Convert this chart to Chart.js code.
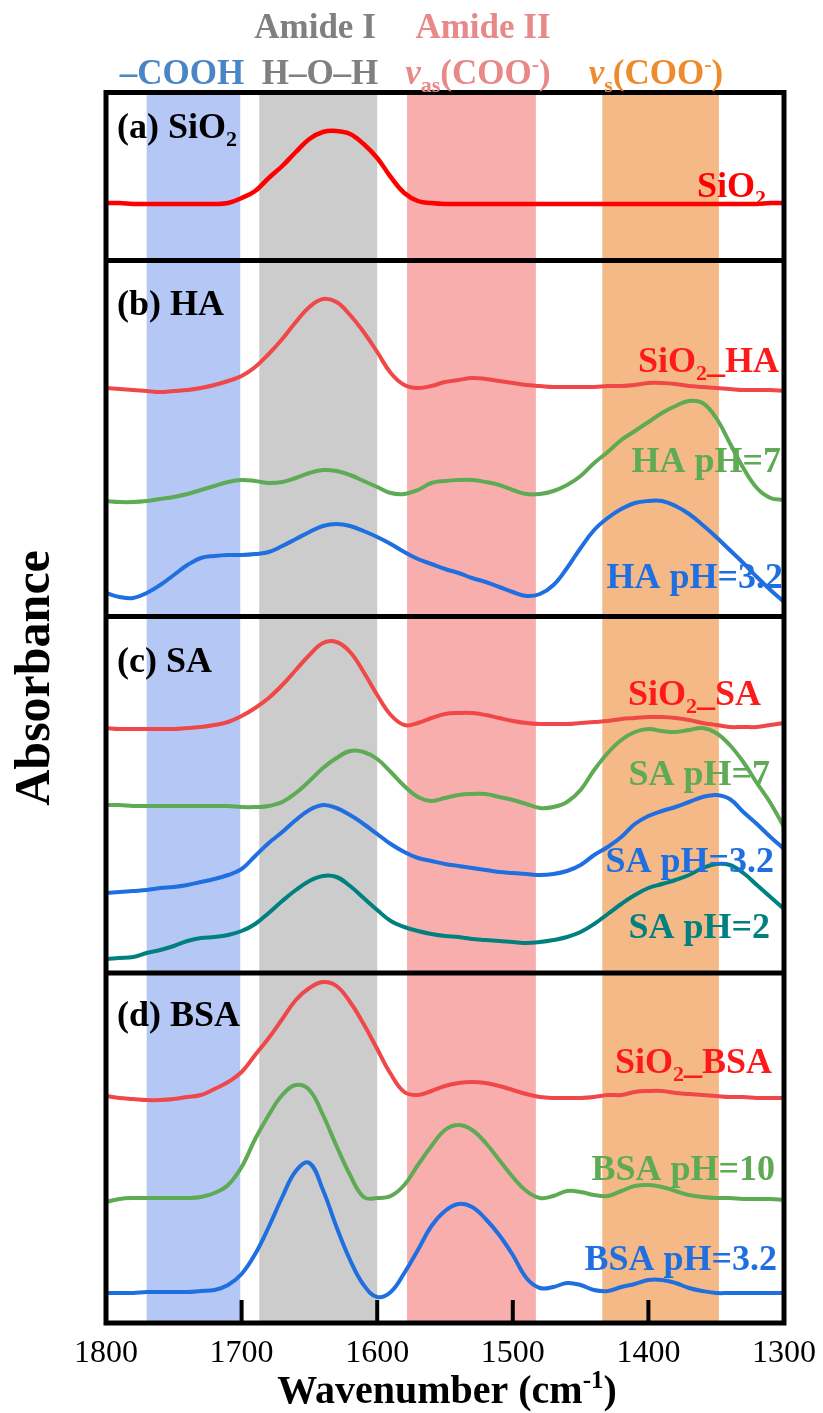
<!DOCTYPE html>
<html>
<head>
<meta charset="utf-8">
<script src="https://cdn.jsdelivr.net/npm/chart.js@4.4.1/dist/chart.umd.min.js"></script>
<style>
  html, body { margin: 0; padding: 0; background: #fff; }
  #wrap { width: 823px; height: 1413px; }
</style>
</head>
<body>
<div id="wrap"><canvas id="ftirChart" width="823" height="1413"></canvas></div>
<script>
// Wavenumber grid (cm-1), read every 10 cm-1
const wavenumbers = [1800, 1790, 1780, 1770, 1760, 1750, 1740, 1730, 1720, 1710,
    1700, 1690, 1680, 1670, 1660, 1650, 1640, 1630, 1620, 1610,
    1600, 1590, 1580, 1570, 1560, 1550, 1540, 1530, 1520, 1510,
    1500, 1490, 1480, 1470, 1460, 1450, 1440, 1430, 1420, 1410,
    1400, 1390, 1380, 1370, 1360, 1350, 1340, 1330, 1320, 1310, 1300];

// Absorbance (a.u., spectra already stacked with offsets)
// (a) SiO2
const sio2 = [11.20, 11.20, 11.19, 11.19, 11.19, 11.19, 11.19, 11.19, 11.19, 11.20,
    11.25, 11.32, 11.45, 11.57, 11.71, 11.84, 11.91, 11.92, 11.89, 11.79,
    11.65, 11.46, 11.30, 11.22, 11.20, 11.19, 11.19, 11.19, 11.19, 11.19,
    11.19, 11.19, 11.19, 11.19, 11.19, 11.19, 11.19, 11.19, 11.19, 11.19,
    11.19, 11.19, 11.19, 11.19, 11.19, 11.19, 11.19, 11.19, 11.19, 11.20, 11.20];

// (b) HA
const sio2HA = [9.35, 9.34, 9.33, 9.32, 9.31, 9.32, 9.33, 9.35, 9.38, 9.42,
    9.47, 9.56, 9.69, 9.84, 10.01, 10.16, 10.24, 10.21, 10.08, 9.91,
    9.71, 9.50, 9.38, 9.35, 9.37, 9.41, 9.43, 9.45, 9.44, 9.42,
    9.40, 9.38, 9.37, 9.36, 9.36, 9.36, 9.36, 9.37, 9.37, 9.38,
    9.40, 9.40, 9.39, 9.37, 9.36, 9.35, 9.34, 9.33, 9.33, 9.33, 9.32];
const haPH7 = [8.22, 8.21, 8.21, 8.22, 8.24, 8.26, 8.29, 8.33, 8.37, 8.41,
    8.43, 8.42, 8.40, 8.41, 8.45, 8.50, 8.53, 8.52, 8.48, 8.42,
    8.36, 8.30, 8.29, 8.33, 8.40, 8.42, 8.43, 8.43, 8.41, 8.38,
    8.33, 8.29, 8.29, 8.32, 8.38, 8.47, 8.60, 8.71, 8.83, 8.92,
    9.01, 9.10, 9.17, 9.22, 9.20, 9.05, 8.80, 8.55, 8.35, 8.25, 8.23];
const haPH32 = [7.30, 7.26, 7.25, 7.30, 7.38, 7.48, 7.58, 7.65, 7.67, 7.68,
    7.68, 7.69, 7.71, 7.77, 7.84, 7.91, 7.97, 7.99, 7.97, 7.92,
    7.86, 7.79, 7.71, 7.64, 7.59, 7.54, 7.50, 7.45, 7.41, 7.36,
    7.31, 7.27, 7.29, 7.38, 7.55, 7.75, 7.93, 8.05, 8.14, 8.20,
    8.22, 8.22, 8.17, 8.09, 7.98, 7.86, 7.73, 7.60, 7.46, 7.33, 7.21];

// (c) SA
const sio2SA = [5.95, 5.94, 5.94, 5.94, 5.94, 5.94, 5.95, 5.96, 5.98, 6.01,
    6.07, 6.15, 6.25, 6.38, 6.53, 6.68, 6.80, 6.81, 6.71, 6.51,
    6.28, 6.08, 5.98, 6.00, 6.05, 6.09, 6.10, 6.10, 6.08, 6.05,
    6.02, 6.00, 5.99, 5.99, 5.99, 6.00, 6.01, 6.02, 6.04, 6.05,
    6.06, 6.06, 6.05, 6.03, 6.00, 5.98, 5.96, 5.96, 5.96, 5.98, 6.00];
const saPH7 = [5.18, 5.18, 5.17, 5.17, 5.17, 5.17, 5.17, 5.17, 5.17, 5.17,
    5.16, 5.16, 5.17, 5.21, 5.30, 5.42, 5.55, 5.65, 5.72, 5.71,
    5.64, 5.51, 5.37, 5.26, 5.22, 5.25, 5.28, 5.29, 5.29, 5.26,
    5.23, 5.19, 5.15, 5.16, 5.21, 5.33, 5.53, 5.70, 5.83, 5.91,
    5.94, 5.92, 5.91, 5.93, 5.95, 5.90, 5.78, 5.61, 5.40, 5.20, 4.96];
const saPH32 = [4.30, 4.31, 4.32, 4.33, 4.35, 4.36, 4.38, 4.41, 4.44, 4.48,
    4.54, 4.67, 4.80, 4.91, 5.03, 5.13, 5.18, 5.15, 5.08, 4.99,
    4.89, 4.79, 4.71, 4.65, 4.62, 4.59, 4.57, 4.55, 4.53, 4.51,
    4.50, 4.49, 4.48, 4.49, 4.52, 4.58, 4.68, 4.76, 4.86, 4.99,
    5.07, 5.12, 5.16, 5.21, 5.26, 5.28, 5.24, 5.11, 4.99, 4.86, 4.74];
const saPH2 = [3.64, 3.65, 3.66, 3.70, 3.73, 3.77, 3.82, 3.85, 3.86, 3.88,
    3.92, 3.99, 4.10, 4.22, 4.33, 4.42, 4.47, 4.46, 4.37, 4.25,
    4.13, 4.02, 3.96, 3.92, 3.89, 3.87, 3.86, 3.84, 3.83, 3.82,
    3.81, 3.80, 3.81, 3.83, 3.86, 3.91, 3.99, 4.09, 4.19, 4.28,
    4.35, 4.39, 4.43, 4.48, 4.55, 4.59, 4.58, 4.50, 4.38, 4.26, 4.14];

// (d) BSA
const sio2BSA = [2.27, 2.25, 2.24, 2.23, 2.23, 2.24, 2.26, 2.28, 2.34, 2.41,
    2.51, 2.68, 2.85, 3.04, 3.23, 3.35, 3.41, 3.37, 3.21, 2.99,
    2.74, 2.49, 2.31, 2.28, 2.32, 2.37, 2.40, 2.41, 2.40, 2.37,
    2.33, 2.29, 2.26, 2.25, 2.25, 2.25, 2.26, 2.28, 2.28, 2.31,
    2.32, 2.32, 2.30, 2.29, 2.28, 2.27, 2.26, 2.26, 2.25, 2.25, 2.25];
const bsaPH10 = [1.21, 1.24, 1.25, 1.25, 1.25, 1.25, 1.25, 1.26, 1.30, 1.38,
    1.56, 1.84, 2.08, 2.28, 2.38, 2.33, 2.08, 1.77, 1.48, 1.26,
    1.25, 1.27, 1.38, 1.58, 1.77, 1.93, 1.98, 1.93, 1.80, 1.63,
    1.46, 1.32, 1.25, 1.27, 1.32, 1.31, 1.28, 1.27, 1.32, 1.37,
    1.38, 1.36, 1.32, 1.28, 1.26, 1.25, 1.25, 1.24, 1.24, 1.24, 1.23];
const bsaPH32 = [0.30, 0.30, 0.30, 0.31, 0.31, 0.31, 0.31, 0.32, 0.33, 0.38,
    0.49, 0.69, 0.96, 1.26, 1.52, 1.60, 1.33, 0.96, 0.63, 0.38,
    0.26, 0.31, 0.50, 0.73, 0.97, 1.12, 1.19, 1.16, 1.04, 0.88,
    0.68, 0.45, 0.35, 0.36, 0.40, 0.38, 0.33, 0.32, 0.36, 0.39,
    0.43, 0.43, 0.40, 0.35, 0.32, 0.30, 0.30, 0.30, 0.30, 0.30, 0.30];

// Assignment bands (cm-1)
const bandStart = [1770, 1687, 1578, 1434];
const bandEnd = [1701, 1600, 1483, 1348];

// Bottom axis ticks and panel separators (absorbance units)
const tickValues = [1800, 1700, 1600, 1500, 1400, 1300];
const panelDividers = [10.625, 7.065, 3.5];

const SERIF = '"Liberation Serif", "Times New Roman", serif';
const RED = '#f04848';
const GREEN = '#5eaa55';
const BLUE = '#1f6fe0';
const TEAL = '#00817f';

function series(values, color, width) {
    return {
        data: wavenumbers.map(function (w, i) { return { x: w, y: values[i] }; }),
        borderColor: color,
        borderWidth: width || 4,
        pointRadius: 0,
        fill: false,
        tension: 0.4
    };
}

// text made of pieces: [text, kind] with kind '', 'sub', 'sup', 'it'
function pieceFont(kind, size) {
    if (kind === 'sub' || kind === 'sup') return 'bold ' + Math.round(size * 0.62) + 'px ' + SERIF;
    if (kind === 'it') return 'italic bold ' + size + 'px ' + SERIF;
    return 'bold ' + size + 'px ' + SERIF;
}
function richWidth(ctx, parts, size) {
    let w = 0;
    parts.forEach(function (p) {
        ctx.font = pieceFont(p[1], size);
        w += ctx.measureText(p[0]).width;
    });
    return w;
}
function drawRich(ctx, parts, x, y, align, size, color) {
    const total = richWidth(ctx, parts, size);
    let cx = align === 'right' ? x - total : (align === 'center' ? x - total / 2 : x);
    ctx.fillStyle = color;
    ctx.textAlign = 'left';
    ctx.textBaseline = 'alphabetic';
    parts.forEach(function (p) {
        ctx.font = pieceFont(p[1], size);
        let dy = 0;
        if (p[1] === 'sub') dy = size * 0.22;
        if (p[1] === 'sup') dy = -size * 0.38;
        ctx.fillText(p[0], cx, y + dy);
        cx += ctx.measureText(p[0]).width;
    });
}

const decorations = {
    id: 'decorations',
    beforeDatasetsDraw: function (chart) {
        const ctx = chart.ctx, a = chart.chartArea, xs = chart.scales.x;
        const colors = ['#b4c7f5', '#cccccc', '#f9aeae', '#f4b987'];
        ctx.save();
        bandStart.forEach(function (s, i) {
            const x1 = xs.getPixelForValue(s), x2 = xs.getPixelForValue(bandEnd[i]);
            ctx.fillStyle = colors[i];
            ctx.fillRect(Math.min(x1, x2), a.top, Math.abs(x2 - x1), a.bottom - a.top);
        });
        ctx.restore();
    },
    afterDatasetsDraw: function (chart) {
        const ctx = chart.ctx, a = chart.chartArea, xs = chart.scales.x, ys = chart.scales.y;
        ctx.save();
        ctx.strokeStyle = '#000';
        ctx.lineWidth = 5;
        ctx.strokeRect(a.left, a.top, a.right - a.left, a.bottom - a.top);
        panelDividers.forEach(function (v) {
            const y = ys.getPixelForValue(v);
            ctx.beginPath();
            ctx.moveTo(a.left, y);
            ctx.lineTo(a.right, y);
            ctx.stroke();
        });
        // inward ticks on the bottom axis
        ctx.lineWidth = 4;
        tickValues.forEach(function (t) {
            const x = xs.getPixelForValue(t);
            ctx.beginPath();
            ctx.moveTo(x, a.bottom);
            ctx.lineTo(x, a.bottom - 23);
            ctx.stroke();
        });
        ctx.fillStyle = '#000';
        ctx.font = '32px ' + SERIF;
        ctx.textAlign = 'center';
        ctx.textBaseline = 'alphabetic';
        tickValues.forEach(function (t) {
            ctx.fillText(String(t), xs.getPixelForValue(t), a.bottom + 39);
        });
        drawRich(ctx, [['Wavenumber (cm', ''], ['-1', 'sup'], [')', '']], (a.left + a.right) / 2 + 2, a.bottom + 80, 'center', 40, '#000');

        ctx.save();
        ctx.translate(32, 678);
        ctx.rotate(-Math.PI / 2);
        drawRich(ctx, [['Absorbance', '']], 0, 17, 'center', 50, '#000');
        ctx.restore();

        // band titles above the frame
        drawRich(ctx, [['Amide I', '']], 315, 38, 'center', 35, '#808080');
        drawRich(ctx, [['Amide II', '']], 483, 38, 'center', 35, '#e98888');
        drawRich(ctx, [['\u2013COOH', '']], 182, 84, 'center', 35, '#4a86c6');
        drawRich(ctx, [['H\u2013O\u2013H', '']], 320, 84, 'center', 35, '#808080');
        drawRich(ctx, [['v', 'it'], ['as', 'sub'], ['(COO', ''], ['-', 'sup'], [')', '']], 478, 84, 'center', 35, '#e98888');
        drawRich(ctx, [['v', 'it'], ['s', 'sub'], ['(COO', ''], ['-', 'sup'], [')', '']], 656, 84, 'center', 35, '#ef8b2f');

        // panel titles
        drawRich(ctx, [['(a) SiO', ''], ['2', 'sub']], 117, 138, 'left', 36, '#000');
        drawRich(ctx, [['(b) HA', '']], 117, 315, 'left', 36, '#000');
        drawRich(ctx, [['(c) SA', '']], 117, 672, 'left', 36, '#000');
        drawRich(ctx, [['(d) BSA', '']], 117, 1026, 'left', 36, '#000');

        // curve names
        drawRich(ctx, [['SiO', ''], ['2', 'sub']], 766, 197, 'right', 36, '#ff0000');
        drawRich(ctx, [['SiO', ''], ['2', 'sub'], ['_HA', '']], 779, 372, 'right', 36, '#ff1a1a');
        drawRich(ctx, [['HA pH=7', '']], 781, 472, 'right', 36, GREEN);
        drawRich(ctx, [['HA pH=3.2', '']], 783, 588, 'right', 36, BLUE);
        drawRich(ctx, [['SiO', ''], ['2', 'sub'], ['_SA', '']], 761, 705, 'right', 36, '#ff1a1a');
        drawRich(ctx, [['SA pH=7', '']], 770, 785, 'right', 36, GREEN);
        drawRich(ctx, [['SA pH=3.2', '']], 774, 872, 'right', 36, BLUE);
        drawRich(ctx, [['SA pH=2', '']], 770, 938, 'right', 36, TEAL);
        drawRich(ctx, [['SiO', ''], ['2', 'sub'], ['_BSA', '']], 772, 1073, 'right', 36, '#ff1a1a');
        drawRich(ctx, [['BSA pH=10', '']], 775, 1180, 'right', 36, GREEN);
        drawRich(ctx, [['BSA pH=3.2', '']], 777, 1270, 'right', 36, BLUE);
        ctx.restore();
    }
};

document.addEventListener('DOMContentLoaded', function () {
    const ctx = document.getElementById('ftirChart').getContext('2d');
    new Chart(ctx, {
        type: 'line',
        data: {
            datasets: [
                series(sio2, '#ff0000', 4.5),
                series(sio2HA, RED), series(haPH7, GREEN), series(haPH32, BLUE),
                series(sio2SA, RED), series(saPH7, GREEN), series(saPH32, BLUE), series(saPH2, TEAL),
                series(sio2BSA, RED), series(bsaPH10, GREEN), series(bsaPH32, BLUE)
            ]
        },
        options: {
            responsive: false,
            animation: false,
            devicePixelRatio: 1,
            layout: { padding: { left: 106, top: 92.5, right: 39, bottom: 90 } },
            scales: {
                x: { type: 'linear', min: 1300, max: 1800, reverse: true, display: false },
                y: { type: 'linear', min: 0, max: 12.305, display: false }
            },
            plugins: {
                legend: { display: false },
                tooltip: { enabled: false }
            }
        },
        plugins: [decorations]
    });
});
</script>
</body>
</html>
